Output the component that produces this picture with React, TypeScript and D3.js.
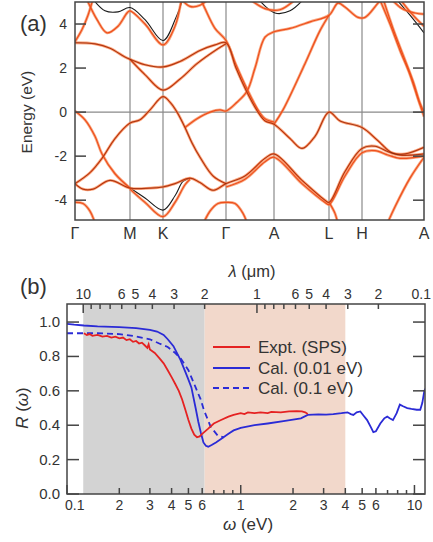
import React from 'react';
import * as d3 from 'd3';

type Pt = [number, number];

// (a) band structure: k path (arb. units) and energies (eV)
const kPoints = [0, 55, 88, 151, 199, 254, 287, 349];
const kNames = ['Γ', 'M', 'K', 'Γ', 'A', 'L', 'H', 'A'];
const energyTicks = [-4, -2, 0, 2, 4];

const bandTop: Pt[] = [[0, 3.15], [20, 3.1], [35, 2.9], [50, 2.5], [55, 2.4], [70, 2.15], [88, 2.05], [105, 2.3], [125, 2.8], [140, 3.05], [151, 3.15], [161, 2.0], [172, 0.9], [183, 0.0], [190, -0.4], [199, -0.55], [215, -1.2], [227, -1.65], [240, -1.1], [254, 0.0], [265, -0.4], [287, -0.7], [303, -1.3], [317, -1.85], [330, -1.9], [349, -1.6]];
const bandSteepG1: Pt[] = [[0, 3.2], [7, 3.75], [13, 4.4], [19, 5.3]];
const bandSteepG2: Pt[] = [[124, 5.3], [130, 4.7], [140, 3.8], [151, 3.25], [161, 2.15], [172, 1.05], [183, 0.1], [190, -0.3], [199, -0.45]];
const bandUpper: Pt[] = [[10, 5.3], [22, 4.2], [32, 3.6], [43, 3.9], [52, 4.5], [55, 4.6], [70, 4.0], [88, 3.05], [100, 3.9], [107, 5.3]];
const bandUpperBlack: Pt[] = [[15, 5.3], [30, 4.6], [43, 4.55], [55, 4.75], [70, 4.2], [88, 3.25], [101, 4.3], [109, 5.3]];
const bandArcTop: Pt[] = [[103, 5.3], [115, 4.8], [125, 4.85], [137, 5.3]];
const bandPiStar: Pt[] = [[55, 2.4], [70, 1.7], [88, 1.0], [105, 1.5], [122, 2.2], [142, 2.85], [151, 3.1]];
const bandPi: Pt[] = [[0, -3.25], [15, -2.75], [27, -2.1], [40, -1.2], [55, -0.5], [65, -0.35], [75, 0.1], [88, 0.7], [95, 0.45], [102, 0.0], [110, -0.7], [117, -1.4], [125, -2.05], [138, -2.9], [151, -3.25]];
const bandDown: Pt[] = [[0, 0.05], [10, -0.35], [20, -1.1], [27, -1.9], [40, -2.8], [55, -3.45]];
const bandRise: Pt[] = [[110, -0.7], [122, -0.3], [135, 0.0], [145, 0.1], [151, 0.05], [162, 0.45], [172, 0.95], [180, 2.0], [190, 3.4], [199, 3.65], [215, 3.8], [235, 4.1], [254, 4.4], [263, 4.95], [270, 4.77], [283, 4.3], [290, 4.3], [303, 4.95], [310, 5.3]];
const bandDiag: Pt[] = [[199, -0.55], [208, 0.1], [230, 2.2], [245, 3.7], [254, 4.4]];
const bandFall: Pt[] = [[303, 5.3], [315, 4.0], [325, 2.8], [335, 1.7], [343, 0.6], [349, -0.2]];
const bandFall2: Pt[] = [[307, 5.3], [318, 3.8], [328, 2.6], [338, 1.4], [345, 0.4], [349, 0.0]];
const bandTopA: Pt[] = [[170, 5.3], [190, 4.7], [205, 4.65], [225, 5.3]];
const bandTopABlack: Pt[] = [[180, 5.3], [200, 4.5], [215, 4.6], [232, 5.3]];
const bandTopA2: Pt[] = [[313, 5.3], [327, 4.7], [340, 4.5], [349, 4.45]];
const bandTopA2Black: Pt[] = [[318, 5.3], [335, 4.4], [349, 3.6]];
const bandTopA2b: Pt[] = [[322, 5.3], [338, 4.4], [349, 3.9]];
const bandSigma: Pt[] = [[0, -3.25], [8, -3.5], [18, -3.5], [35, -3.1], [55, -3.45], [75, -3.45], [88, -3.4], [100, -3.25], [115, -3.0], [125, -3.2], [138, -3.55], [151, -3.25], [170, -2.9], [190, -2.1], [199, -1.9], [227, -3.1], [250, -4.0], [254, -4.1], [270, -2.7], [287, -1.65], [300, -1.55], [313, -1.8], [325, -1.95], [337, -1.95], [349, -1.9]];
const bandSigma2: Pt[] = [[151, -3.4], [170, -3.05], [190, -2.25], [199, -2.05], [227, -3.25], [250, -4.1], [254, -4.2], [270, -2.9], [287, -1.85], [300, -1.75], [313, -1.95], [325, -2.1], [349, -2.0]];
const bandDipBlack: Pt[] = [[55, -3.45], [70, -3.9], [88, -4.45], [100, -3.8], [108, -3.15], [115, -3.0]];
const bandDip: Pt[] = [[55, -3.5], [70, -4.1], [88, -4.75], [100, -4.1], [110, -3.3], [115, -3.05]];
const bandArcG1: Pt[] = [[0, -4.1], [8, -4.15], [15, -4.5], [22, -5.3]];
const bandArcG2: Pt[] = [[126, -5.3], [135, -4.5], [143, -4.15], [151, -4.1], [160, -4.15], [168, -4.6], [174, -5.3]];
const bandL: Pt[] = [[254, -4.1], [260, -4.6], [264, -5.3]];
const bandA2: Pt[] = [[310, -5.3], [320, -4.3], [335, -3.0], [349, -2.05]];

const orangeBands = [bandTop, bandSteepG1, bandSteepG2, bandUpper, bandArcTop, bandPiStar, bandPi, bandDown, bandRise, bandDiag, bandFall, bandFall2, bandTopA, bandTopA2, bandTopA2b, bandSigma, bandSigma2, bandDip, bandArcG1, bandArcG2, bandL, bandA2];
const blackBands = [bandUpperBlack, bandTopABlack, bandTopA2Black, bandDipBlack];
const coreBands = [bandTop, bandPiStar, bandPi, bandSigma];

// (b) reflectivity
const exptOmega = [0.125, 0.13, 0.135, 0.14, 0.15, 0.16, 0.17, 0.18, 0.19, 0.2, 0.21, 0.22, 0.23, 0.24, 0.25, 0.26, 0.27, 0.28, 0.29, 0.295, 0.3, 0.32, 0.34, 0.36, 0.38, 0.4, 0.42, 0.44, 0.46, 0.48, 0.5, 0.52, 0.54, 0.56, 0.58, 0.6, 0.65, 0.7, 0.77, 0.85, 0.91, 1.0, 1.05, 1.1, 1.2, 1.3, 1.43, 1.5, 1.7, 1.9, 2.1, 2.25, 2.35, 2.43];
const exptR = [0.935, 0.925, 0.93, 0.92, 0.925, 0.915, 0.92, 0.91, 0.915, 0.905, 0.91, 0.895, 0.9, 0.885, 0.89, 0.875, 0.88, 0.865, 0.85, 0.87, 0.84, 0.82, 0.79, 0.76, 0.72, 0.68, 0.64, 0.6, 0.55, 0.49, 0.43, 0.38, 0.345, 0.33, 0.335, 0.35, 0.38, 0.41, 0.43, 0.45, 0.46, 0.47, 0.465, 0.475, 0.47, 0.475, 0.47, 0.478, 0.475, 0.48, 0.482, 0.48, 0.475, 0.465];
const calOmega = [0.1, 0.11, 0.125, 0.15, 0.2, 0.25, 0.3, 0.33, 0.36, 0.38, 0.41, 0.45, 0.48, 0.5, 0.52, 0.55, 0.57, 0.59, 0.61, 0.63, 0.65, 0.68, 0.72, 0.77, 0.85, 0.91, 1.0, 1.2, 1.43, 1.8, 2.22, 2.43, 2.8, 3.1, 3.41, 3.8, 4.12, 4.3, 4.45, 4.65, 4.88, 5.1, 5.34, 5.6, 5.8, 6.0, 6.36, 6.7, 6.97, 7.2, 7.52, 7.9, 8.24, 8.6, 9.09, 9.6, 10.3, 10.8, 11.1, 11.4, 11.7];
const calR = [0.99, 0.985, 0.98, 0.975, 0.97, 0.965, 0.955, 0.945, 0.925, 0.9, 0.86, 0.78, 0.71, 0.665, 0.62, 0.5, 0.42, 0.355, 0.3, 0.28, 0.275, 0.285, 0.3, 0.32, 0.35, 0.37, 0.385, 0.4, 0.41, 0.425, 0.44, 0.46, 0.463, 0.462, 0.465, 0.47, 0.475, 0.465, 0.46, 0.475, 0.48, 0.455, 0.43, 0.39, 0.36, 0.365, 0.41, 0.44, 0.45, 0.44, 0.43, 0.47, 0.52, 0.51, 0.5, 0.495, 0.49, 0.49, 0.53, 0.6, 0.62];
const calBroadOmega = [0.1, 0.15, 0.2, 0.24, 0.3, 0.34, 0.38, 0.42, 0.45, 0.5, 0.55, 0.588, 0.613, 0.672, 0.737, 0.8];
const calBroadR = [0.935, 0.935, 0.93, 0.92, 0.9, 0.875, 0.855, 0.82, 0.79, 0.72, 0.62, 0.55, 0.49, 0.39, 0.34, 0.33];

const grayRange = [0.124, 0.62];
const pinkRange = [0.62, 4.0];
const rTicks = [0, 0.2, 0.4, 0.6, 0.8, 1.0];
const omegaTicks = [0.1, 0.2, 0.3, 0.4, 0.5, 0.6, 0.7, 0.8, 0.9, 1, 2, 3, 4, 5, 6, 7, 8, 9, 10];
const omegaLabels = ['0.1', '2', '3', '4', '5', '6', '', '', '', '1', '2', '3', '4', '5', '6', '', '', '', '10'];
const lambdaTicks = [10, 9, 8, 7, 6, 5, 4, 3, 2, 1, 0.9, 0.8, 0.7, 0.6, 0.5, 0.4, 0.3, 0.2, 0.1];
const lambdaLabels = ['10', '', '', '', '6', '5', '4', '3', '2', '1', '', '', '', '6', '5', '4', '3', '2', '0.1'];

const FONT = 'Liberation Sans, Arial, Helvetica, sans-serif';
const TXT = '#333';

export default function App() {
  const xA = d3.scaleLinear().domain([0, 349]).range([75, 424]);
  const yA = d3.scaleLinear().domain([-4.9, 5.0]).range([220, 2]);
  const bandLine = d3.line<Pt>().x(d => xA(d[0])).y(d => yA(d[1])).curve(d3.curveCatmullRom.alpha(0.5));

  const xB = d3.scaleLog().domain([0.1, 11.5]).range([67, 425]);
  const yB = d3.scaleLinear().domain([0, 1.105]).range([494, 304]);
  const mk = (om: number[], r: number[]) =>
    d3.line<number>().x(d => xB(d)).y((_, i) => yB(r[i]))(om) || '';

  const ev = (lam: number) => 1.2398 / lam;

  return (
    <svg width={433} height={542} style={{ position: 'absolute', left: 0, top: 0, background: '#fff' }} fontFamily={FONT}>
      <defs>
        <clipPath id="clipA"><rect x={75} y={2} width={349} height={218} /></clipPath>
        <clipPath id="clipB"><rect x={67} y={304} width={358} height={190} /></clipPath>
      </defs>

      {/* ---------- (a) ---------- */}
      <text x={20} y={31} fontSize={22} fill={TXT}>(a)</text>
      <text transform={`translate(32,${yA(0)}) rotate(-90)`} textAnchor="middle" fontSize={15.5} fill={TXT}>Energy (eV)</text>
      {kPoints.slice(1, -1).map((k, i) => (
        <line key={'v' + i} x1={xA(k)} x2={xA(k)} y1={2} y2={220} stroke="#8a8a8a" strokeWidth={1.2} />
      ))}
      <line x1={75} x2={424} y1={yA(0)} y2={yA(0)} stroke="#8a8a8a" strokeWidth={1.2} />
      <g clipPath="url(#clipA)" fill="none">
        {blackBands.map((b, i) => (
          <path key={'bk' + i} d={bandLine(b) || ''} stroke="#1a1a1a" strokeWidth={1.1} />
        ))}
        {orangeBands.map((b, i) => (
          <path key={'o' + i} d={bandLine(b) || ''} stroke="#f6844f" strokeWidth={2.8} strokeOpacity={0.7} />
        ))}
        {orangeBands.map((b, i) => (
          <path key={'oc' + i} d={bandLine(b) || ''} stroke="#ee4f1c" strokeWidth={1.2} />
        ))}
        {coreBands.map((b, i) => (
          <path key={'c' + i} d={bandLine(b) || ''} stroke="#2a0c04" strokeWidth={0.6} strokeOpacity={0.6} />
        ))}
      </g>
      <rect x={75} y={2} width={349} height={218} fill="none" stroke="#444" strokeWidth={1.5} />
      {energyTicks.map(e => (
        <g key={'et' + e}>
          <line x1={75} x2={86} y1={yA(e)} y2={yA(e)} stroke="#444" strokeWidth={1.5} />
          <line x1={413} x2={424} y1={yA(e)} y2={yA(e)} stroke="#444" strokeWidth={1.5} />
          <text x={67} y={yA(e) + 5} textAnchor="end" fontSize={14} fill={TXT}>{e}</text>
        </g>
      ))}
      {kPoints.map((k, i) => (
        <text key={'kn' + i} x={xA(k)} y={239} textAnchor="middle" fontSize={16} fill={TXT}>{kNames[i]}</text>
      ))}

      {/* ---------- (b) ---------- */}
      <text x={20} y={294} fontSize={22} fill={TXT}>(b)</text>
      <text x={252} y={277} textAnchor="middle" fontSize={16.5} fill={TXT}>
        <tspan fontStyle="italic">λ</tspan> (μm)
      </text>
      <rect x={xB(grayRange[0])} y={304} width={xB(grayRange[1]) - xB(grayRange[0])} height={190} fill="#d3d3d3" />
      <rect x={xB(pinkRange[0])} y={304} width={xB(pinkRange[1]) - xB(pinkRange[0])} height={190} fill="#f2d8cb" />
      <g clipPath="url(#clipB)" fill="none">
        <path d={mk(calBroadOmega, calBroadR)} stroke="#2b2bd6" strokeWidth={1.8} strokeDasharray="6,4" />
        <path d={mk(calOmega, calR)} stroke="#2b2bd6" strokeWidth={1.8} />
        <path d={mk(exptOmega, exptR)} stroke="#e52222" strokeWidth={1.8} />
      </g>
      <rect x={67} y={304} width={358} height={190} fill="none" stroke="#444" strokeWidth={1.5} />
      {rTicks.map(r => (
        <g key={'rt' + r}>
          <line x1={67} x2={79} y1={yB(r)} y2={yB(r)} stroke="#444" strokeWidth={1.5} />
          <line x1={413} x2={425} y1={yB(r)} y2={yB(r)} stroke="#444" strokeWidth={1.5} />
          <text x={60} y={yB(r) + 5} textAnchor="end" fontSize={15} fill={TXT}>{r.toFixed(1)}</text>
        </g>
      ))}
      {omegaTicks.map((w, i) => {
        const major = w === 0.1 || w === 1 || w === 10;
        const len = major ? 9 : omegaLabels[i] ? 6 : 4;
        const x = xB(w);
        return (
          <g key={'ot' + i}>
            <line x1={x} x2={x} y1={494} y2={494 - len} stroke="#444" strokeWidth={1.5} />
            {omegaLabels[i] && (
              <text x={w === 0.1 ? x - 2 : x} y={510} textAnchor={w === 0.1 ? 'start' : 'middle'} fontSize={14} fill={TXT}>{omegaLabels[i]}</text>
            )}
          </g>
        );
      })}
      {lambdaTicks.map((lam, i) => {
        const w = ev(lam);
        const inside = w <= 11.5;
        const x = xB(Math.min(w, 11.5));
        const major = lam === 10 || lam === 1 || lam === 0.1;
        const len = major ? 9 : 5;
        return (
          <g key={'lt' + i}>
            {inside && <line x1={x} x2={x} y1={304} y2={304 + len} stroke="#444" strokeWidth={1.5} />}
            {lambdaLabels[i] && (
              <text x={inside ? x : x + 6} y={299} textAnchor={inside ? 'middle' : 'end'} fontSize={14} fill={TXT}>{lambdaLabels[i]}</text>
            )}
          </g>
        );
      })}
      <text transform={`translate(28,${yB(0.5)}) rotate(-90)`} textAnchor="middle" fontSize={17} fill={TXT}>
        <tspan fontStyle="italic">R</tspan> (<tspan fontStyle="italic">ω</tspan>)
      </text>
      <text x={248} y={530} textAnchor="middle" fontSize={17} fill={TXT}>
        <tspan fontStyle="italic">ω</tspan> (eV)
      </text>

      {/* legend */}
      <line x1={213} x2={250} y1={347} y2={347} stroke="#e52222" strokeWidth={1.8} />
      <text x={258} y={353} fontSize={17} fill={TXT}>Expt. (SPS)</text>
      <line x1={213} x2={250} y1={368} y2={368} stroke="#2b2bd6" strokeWidth={1.8} />
      <text x={258} y={374} fontSize={17} fill={TXT}>Cal. (0.01 eV)</text>
      <line x1={213} x2={250} y1={388} y2={388} stroke="#2b2bd6" strokeWidth={1.8} strokeDasharray="6,4" />
      <text x={258} y={394} fontSize={17} fill={TXT}>Cal. (0.1 eV)</text>
    </svg>
  );
}
